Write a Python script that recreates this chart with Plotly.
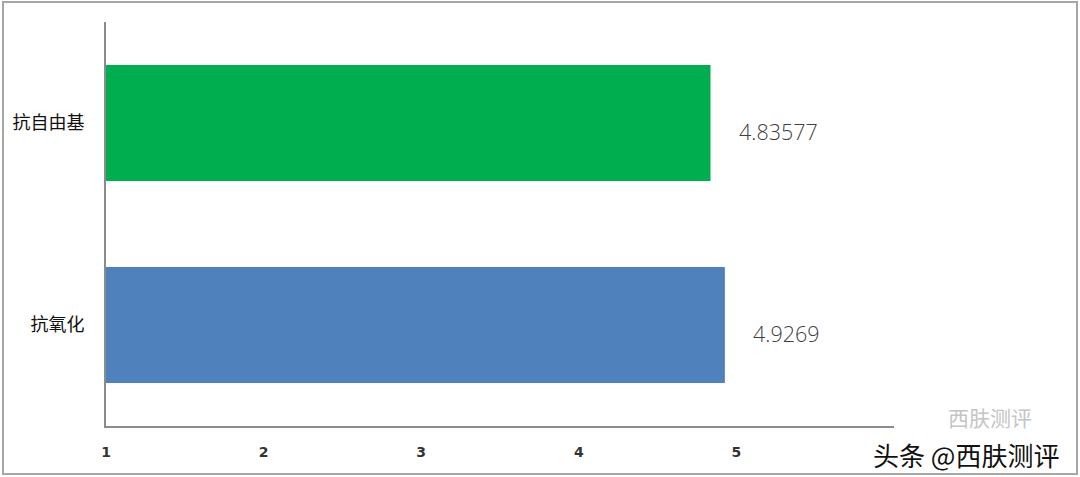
import plotly.graph_objects as go

categories = ["抗氧化", "抗自由基"]
values = [4.9269, 4.83577]
value_labels = ["4.9269", "4.83577"]
bar_colors = ["#4F81BD", "#00AE50"]
x_tick_vals = [1, 2, 3, 4, 5]
x_tick_text = ["1", "2", "3", "4", "5"]

W, H = 1080, 477
L, R, T, B = 106, 186, 22, 51

fig = go.Figure()
fig.add_trace(go.Bar(
    y=categories, x=values, base=0, orientation="h",
    marker=dict(color=bar_colors, line=dict(width=0)),
    width=0.575, hoverinfo="skip",
))

for c, v, t in zip(categories, values, value_labels):
    fig.add_annotation(x=v, y=c, text=t, showarrow=False, xanchor="left",
                       xshift=26, yshift=-8,
                       font=dict(family="Open Sans", size=21.5, color="#404040", weight=300))

def px(xp):
    return (xp - L) / (W - L - R)

def py(yp):
    return 1 - (yp - T) / (H - T - B)

# outer chart border
fig.add_shape(type="rect", xref="paper", yref="paper",
              x0=px(3), x1=px(1077), y0=py(474), y1=py(2),
              line=dict(color="#A6A6A6", width=2), layer="below")

# watermark
fig.add_annotation(xref="paper", yref="paper", x=px(990), y=py(417), text="西肤测评",
                   xanchor="center", yanchor="middle",
                   showarrow=False, font=dict(family="Noto Sans CJK SC", size=21, color="#C4C4C4"))
fig.add_annotation(xref="paper", yref="paper", x=px(966), y=py(454), text="头条 @西肤测评",
                   xanchor="center", yanchor="middle",
                   showarrow=False, font=dict(family="Noto Sans CJK SC", size=26, color="#111111"))

fig.update_layout(
    width=W, height=H,
    margin=dict(l=L, r=R, t=T, b=B, pad=0),
    paper_bgcolor="white", plot_bgcolor="white",
    showlegend=False, bargap=0.425,
    font=dict(family="Noto Sans CJK SC"),
)
fig.update_xaxes(range=[1, 6], tickvals=x_tick_vals, ticktext=x_tick_text,
                 showgrid=False, zeroline=False, showline=True,
                 linecolor="#8C8C8C", linewidth=2, ticks="",
                 ticklabelstandoff=12,
                 tickfont=dict(family="DejaVu Sans", size=14, color="#333333", weight="bold"))
fig.update_yaxes(showgrid=False, zeroline=False, showline=True,
                 linecolor="#8C8C8C", linewidth=2, ticks="",
                 ticklabelstandoff=16,
                 tickfont=dict(family="Noto Sans CJK SC", size=18, color="#111111"))

fig.write_html("out.html", config={"displayModeBar": False},
               post_script="document.body.style.margin='0';document.body.style.overflow='hidden';")
